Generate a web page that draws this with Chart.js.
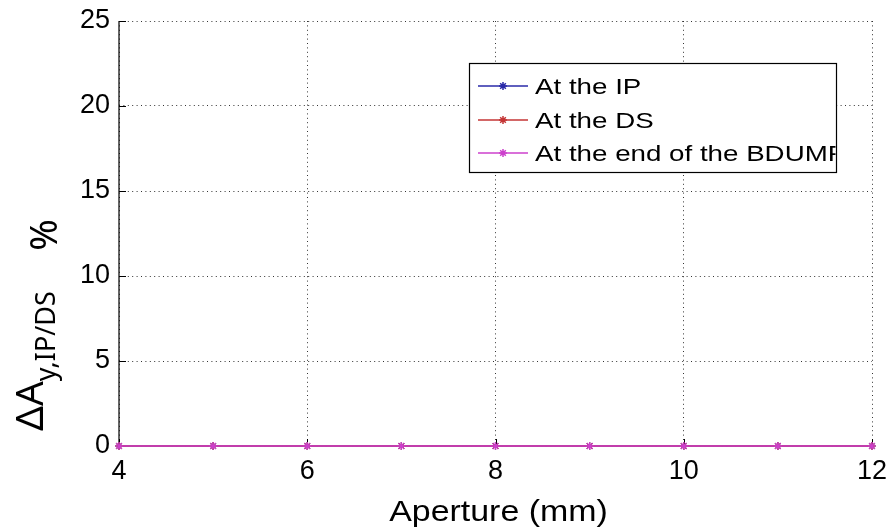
<!DOCTYPE html>
<html>
<head>
<meta charset="utf-8">
<script src="https://cdn.jsdelivr.net/npm/chart.js@4/dist/chart.umd.min.js"></script>
<style>
  html, body { margin: 0; padding: 0; background: #ffffff; }
  #wrap { width: 891px; height: 530px; }
</style>
</head>
<body>
<div id="wrap"><canvas id="chart" width="891" height="530"></canvas></div>
<script>
// Relative change of A_y versus collimator aperture
const apertureMm = [4, 5, 6, 7, 8, 9, 10, 11, 12];
const deltaAtIP  = [0, 0, 0, 0, 0, 0, 0, 0, 0];
const deltaAtDS  = [0, 0, 0, 0, 0, 0, 0, 0, 0];
const deltaAtEnd = [0, 0, 0, 0, 0, 0, 0, 0, 0];

const seriesNames  = ['At the IP', 'At the DS', 'At the end of the BDUMP'];
const seriesColors = ['#2a2aa8', '#c43434', '#cc40cc'];

const xTickValues = [4, 6, 8, 10, 12];
const yTickValues = [0, 5, 10, 15, 20, 25];

const xAxisTitle = 'Aperture (mm)';
const yTitleMain = '\u0394A';
const yTitleSub  = 'y,IP/DS';
const yTitleUnit = '%';

const FONT = '"Liberation Sans", Arial, Helvetica, sans-serif';
const LABEL_FONT = '"Noto Sans", "Open Sans", sans-serif';

function makeSeries(values, i) {
  return {
    label: seriesNames[i],
    data: apertureMm.map((x, k) => ({ x: x, y: values[k] })),
    borderColor: seriesColors[i],
    backgroundColor: seriesColors[i],
    borderWidth: 1.5,
    pointStyle: 'star',
    pointRadius: 4,
    pointBorderWidth: 1.2,
    pointBorderColor: seriesColors[i],
    pointHoverRadius: 4,
    tension: 0,
    fill: false,
    clip: false,
    order: 2 - i
  };
}

// Solid left/bottom axes with inward tick marks (drawn under the data)
const axesFrame = {
  id: 'axesFrame',
  beforeDatasetsDraw(chart) {
    const { ctx, chartArea: a, scales } = chart;
    ctx.save();
    ctx.strokeStyle = '#000';
    ctx.lineWidth = 1.2;
    ctx.beginPath();
    ctx.moveTo(a.left, a.top);
    ctx.lineTo(a.left, a.bottom);
    ctx.lineTo(a.right, a.bottom);
    ctx.stroke();
    ctx.lineWidth = 1;
    ctx.beginPath();
    xTickValues.forEach(v => {
      const px = Math.round(scales.x.getPixelForValue(v)) + 0.5;
      ctx.moveTo(px, a.bottom);
      ctx.lineTo(px, a.bottom - 7);
    });
    yTickValues.forEach(v => {
      const py = Math.round(scales.y.getPixelForValue(v)) + 0.5;
      ctx.moveTo(a.left, py);
      ctx.lineTo(a.left + 7, py);
    });
    ctx.stroke();
    ctx.restore();
  }
};

// Boxed legend inside the plot, text clipped at the box edge
const boxLegend = {
  id: 'boxLegend',
  afterDraw(chart) {
    const { ctx } = chart;
    const box = { x: 469.5, y: 63.5, w: 367, h: 109 };
    const rows = [86, 120, 153];
    ctx.save();
    ctx.fillStyle = '#fff';
    ctx.fillRect(box.x, box.y, box.w, box.h);
    ctx.strokeStyle = '#000';
    ctx.lineWidth = 1.2;
    ctx.strokeRect(box.x, box.y, box.w, box.h);
    ctx.beginPath();
    ctx.rect(box.x + 1, box.y + 1, box.w - 2, box.h - 2);
    ctx.clip();
    chart.data.datasets.forEach((ds, i) => {
      const y = rows[i];
      ctx.strokeStyle = ds.borderColor;
      ctx.lineWidth = 1.5;
      ctx.beginPath();
      ctx.moveTo(478, y);
      ctx.lineTo(528, y);
      ctx.stroke();
      Chart.helpers.drawPoint(ctx, { pointStyle: 'star', radius: 4, borderWidth: 1.2 }, 503, y);
      ctx.save();
      ctx.translate(535, y + 8);
      ctx.scale(1.26, 1);
      ctx.fillStyle = '#000';
      ctx.font = '22px ' + FONT;
      ctx.textAlign = 'left';
      ctx.textBaseline = 'alphabetic';
      ctx.fillText(ds.label, 0, 0);
      ctx.restore();
    });
    ctx.restore();
  }
};

// Axis titles: rotated y title with subscript and unit, x title below ticks
const axisTitles = {
  id: 'axisTitles',
  afterDraw(chart) {
    const { ctx, chartArea: a } = chart;
    ctx.save();
    ctx.fillStyle = '#000';
    // x title
    ctx.save();
    ctx.translate((a.left + a.right) / 2 + 3, 521);
    ctx.scale(1.17, 1);
    ctx.font = '29px ' + FONT;
    ctx.textAlign = 'center';
    ctx.textBaseline = 'alphabetic';
    ctx.fillText(xAxisTitle, 0, 0);
    ctx.restore();
    // y title
    ctx.save();
    ctx.translate(43, 431);
    ctx.rotate(-Math.PI / 2);
    ctx.textAlign = 'left';
    ctx.textBaseline = 'alphabetic';
    ctx.font = '39px ' + LABEL_FONT;
    ctx.fillText(yTitleMain, 0, 0);
    const w = ctx.measureText(yTitleMain).width;
    ctx.font = '27px ' + LABEL_FONT;
    ctx.fillText(yTitleSub, w, 12);
    ctx.restore();
    ctx.save();
    ctx.translate(57, 235);
    ctx.rotate(-Math.PI / 2);
    ctx.textAlign = 'center';
    ctx.textBaseline = 'alphabetic';
    ctx.font = '38px ' + LABEL_FONT;
    ctx.fillText(yTitleUnit, 0, 0);
    ctx.restore();
    ctx.restore();
  }
};

const gridStyle = { color: '#333333', lineWidth: 1, drawTicks: false };
const borderStyle = { display: false, dash: [1, 3.4] };

new Chart(document.getElementById('chart'), {
  type: 'line',
  data: {
    datasets: [
      makeSeries(deltaAtIP, 0),
      makeSeries(deltaAtDS, 1),
      makeSeries(deltaAtEnd, 2)
    ]
  },
  options: {
    responsive: false,
    animation: false,
    devicePixelRatio: 1,
    layout: { padding: { left: 0, right: 19, top: 21, bottom: 0 } },
    plugins: { legend: { display: false }, tooltip: { enabled: false }, title: { display: false } },
    scales: {
      x: {
        type: 'linear',
        min: 4,
        max: 12,
        afterBuildTicks: s => { s.ticks = xTickValues.map(v => ({ value: v })); },
        afterFit: s => { s.height = 84; s.paddingLeft = 0; s.paddingRight = 0; },
        grid: gridStyle,
        border: borderStyle,
        ticks: { color: '#000', padding: 9, font: { family: FONT, size: 27 }, maxRotation: 0, autoSkip: false }
      },
      y: {
        type: 'linear',
        min: 0,
        max: 25,
        afterBuildTicks: s => { s.ticks = yTickValues.map(v => ({ value: v })); },
        afterFit: s => { s.width = 119; s.paddingTop = 0; s.paddingBottom = 0; },
        grid: gridStyle,
        border: borderStyle,
        ticks: { color: '#000', padding: 9, font: { family: FONT, size: 27 } }
      }
    }
  },
  plugins: [axesFrame, boxLegend, axisTitles]
});
</script>
</body>
</html>
